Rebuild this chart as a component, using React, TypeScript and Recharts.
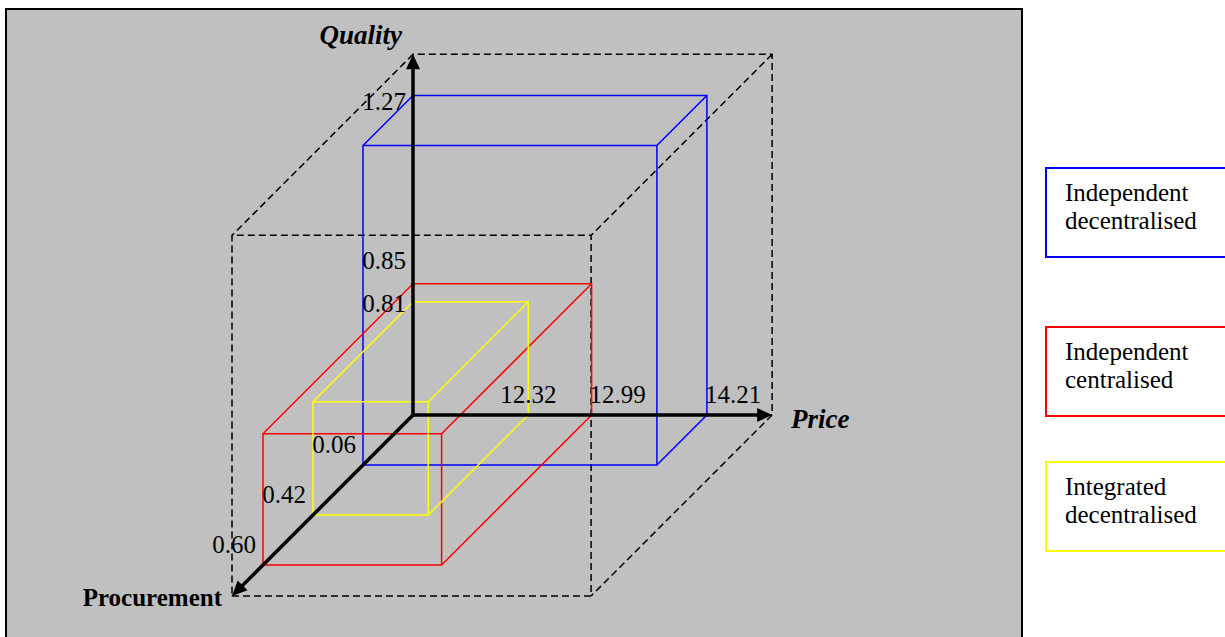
import React from 'react';
import { ComposedChart, Line, Scatter, XAxis, YAxis, Legend } from 'recharts';

// Equilibrium outcome of each organisational form
const STRATEGIES = ['Independent decentralised', 'Independent centralised', 'Integrated decentralised'];
const PRICE = [14.21, 12.99, 12.32];
const QUALITY = [1.27, 0.85, 0.81];
const PROCUREMENT = [0.06, 0.6, 0.42];

const AXIS_NAMES = { price: 'Price', quality: 'Quality', procurement: 'Procurement' };

// ---- styling -------------------------------------------------------------
const BOX_COLORS = ['#0000ff', '#ff0000', '#ffff00'];
const SERIF = '"Liberation Serif", "Times New Roman", Times, serif';
const PANEL_GREY = '#c0c0c0';

// ---- layout of the oblique projection -------------------------------------
const WIDTH = 1225;
const HEIGHT = 637;
const ORIGIN_PX = { x: 413, y: 415 }; // where the three axes meet
const PRICE_AT_ORIGIN = 11.1;
const QUALITY_AT_ORIGIN = 0.557;
const PX_PER_PRICE = 94.5;
const PX_PER_QUALITY = 448;
const DEPTH_STEP_PX = 50; // receding (45°) distance per procurement level
// extent of the dashed reference cube
const FRAME_PRICE = 14.9;
const FRAME_QUALITY = 1.362;
const FRAME_DEPTH = 3.62;
const HEAD_PX = 15; // arrowhead length
const HEAD_HALF_PX = 7;

const X_DOMAIN: [number, number] = [
  PRICE_AT_ORIGIN - ORIGIN_PX.x / PX_PER_PRICE,
  PRICE_AT_ORIGIN + (WIDTH - ORIGIN_PX.x) / PX_PER_PRICE,
];
const Y_DOMAIN: [number, number] = [
  QUALITY_AT_ORIGIN - (HEIGHT - ORIGIN_PX.y) / PX_PER_QUALITY,
  QUALITY_AT_ORIGIN + ORIGIN_PX.y / PX_PER_QUALITY,
];

// legend boxes (page coordinates)
const LEGEND_LEFT = 1045;
const LEGEND_TOPS = [167, 326, 461];

// procurement is laid out ordinally along the receding axis
const LEVELS = [...PROCUREMENT].sort((a, b) => a - b);
const depthOf = (v: number) => LEVELS.indexOf(v) + 1;

type P3 = [number, number, number];
type Pt = { x: number; y: number | null };

// price/quality stay on the chart axes; depth shifts a point down-left at 45°
const project = ([p, q, d]: P3): Pt => ({
  x: p - (d * DEPTH_STEP_PX) / PX_PER_PRICE,
  y: q - (d * DEPTH_STEP_PX) / PX_PER_QUALITY,
});

// wireframe of a box from the origin to (p, q, d): two faces + four receding edges
const boxPath = (p: number, q: number, d: number): Pt[] => {
  const c = (i: number, j: number, k: number): P3 => [
    i ? p : PRICE_AT_ORIGIN,
    j ? q : QUALITY_AT_ORIGIN,
    k ? d : 0,
  ];
  const runs: P3[][] = [];
  for (const k of [0, 1]) runs.push([c(0, 0, k), c(1, 0, k), c(1, 1, k), c(0, 1, k), c(0, 0, k)]);
  for (const i of [0, 1]) for (const j of [0, 1]) runs.push([c(i, j, 0), c(i, j, 1)]);
  return runs.flatMap((run) => {
    const pts = run.map(project);
    const last = pts[pts.length - 1];
    return [...pts, { x: last.x, y: null }];
  });
};

const FRAME_PATH = boxPath(FRAME_PRICE, FRAME_QUALITY, FRAME_DEPTH);
const BOX_PATHS = STRATEGIES.map((_, i) => boxPath(PRICE[i], QUALITY[i], depthOf(PROCUREMENT[i])));

// the three axes: shaft stops where the arrowhead begins
const ORIGIN3: P3 = [PRICE_AT_ORIGIN, QUALITY_AT_ORIGIN, 0];
const SHAFT = HEAD_PX - 2;
const AXES: { tip: P3; shaftEnd: P3 }[] = [
  {
    tip: [FRAME_PRICE, QUALITY_AT_ORIGIN, 0],
    shaftEnd: [FRAME_PRICE - SHAFT / PX_PER_PRICE, QUALITY_AT_ORIGIN, 0],
  },
  {
    tip: [PRICE_AT_ORIGIN, FRAME_QUALITY, 0],
    shaftEnd: [PRICE_AT_ORIGIN, FRAME_QUALITY - SHAFT / PX_PER_QUALITY, 0],
  },
  {
    tip: [PRICE_AT_ORIGIN, QUALITY_AT_ORIGIN, FRAME_DEPTH],
    shaftEnd: [PRICE_AT_ORIGIN, QUALITY_AT_ORIGIN, FRAME_DEPTH - SHAFT / (DEPTH_STEP_PX * Math.SQRT2)],
  },
];
const ORIGIN = project(ORIGIN3);
const ARROW_HEADS = AXES.map(({ tip }) => {
  const t = project(tip);
  const dxPx = (t.x - ORIGIN.x) * PX_PER_PRICE;
  const dyPx = -((t.y as number) - (ORIGIN.y as number)) * PX_PER_QUALITY;
  return { x: t.x, y: t.y, angle: (Math.atan2(dyPx, dxPx) * 180) / Math.PI };
});
const [PRICE_TIP, QUALITY_TIP, PROCUREMENT_TIP] = AXES.map((a) => project(a.tip));

// ---- text placed next to the marks ---------------------------------------
type Label = {
  x: number;
  y: number;
  text: string;
  anchor: 'start' | 'middle' | 'end';
  dx: number;
  dy: number;
  size: number;
  bold?: boolean;
  italic?: boolean;
};

const PRICE_LABEL_ANCHOR: Label['anchor'][] = ['start', 'start', 'middle'];
const PRICE_LABEL_DX = [-2, -2, 0];
const QUALITY_LABEL_DY = [14, -15, 10];
const VALUE_SIZE = 25;

const fmt = (v: number) => v.toFixed(2);

const LABELS: Label[] = [
  ...PRICE.map((v, i) => {
    const pt = project([v, QUALITY_AT_ORIGIN, 0]);
    return { x: pt.x, y: pt.y as number, text: fmt(v), anchor: PRICE_LABEL_ANCHOR[i], dx: PRICE_LABEL_DX[i], dy: -12, size: VALUE_SIZE };
  }),
  ...QUALITY.map((v, i) => {
    const pt = project([PRICE_AT_ORIGIN, v, 0]);
    return { x: pt.x, y: pt.y as number, text: fmt(v), anchor: 'end' as const, dx: -7, dy: QUALITY_LABEL_DY[i], size: VALUE_SIZE };
  }),
  ...PROCUREMENT.map((v) => {
    const pt = project([PRICE_AT_ORIGIN, QUALITY_AT_ORIGIN, depthOf(v)]);
    return { x: pt.x, y: pt.y as number, text: fmt(v), anchor: 'end' as const, dx: -7, dy: -12.5, size: VALUE_SIZE };
  }),
  { x: QUALITY_TIP.x, y: QUALITY_TIP.y as number, text: AXIS_NAMES.quality, anchor: 'end', dx: -11, dy: -10, size: 27, bold: true, italic: true },
  { x: PRICE_TIP.x, y: PRICE_TIP.y as number, text: AXIS_NAMES.price, anchor: 'start', dx: 19, dy: 13, size: 27, bold: true, italic: true },
  { x: PROCUREMENT_TIP.x, y: PROCUREMENT_TIP.y as number, text: AXIS_NAMES.procurement, anchor: 'end', dx: -10, dy: 10, size: 25, bold: true },
];

const renderLabel = (props: any) => {
  const { cx, cy, payload } = props;
  const l = payload as Label;
  return (
    <text
      x={cx + l.dx}
      y={cy + l.dy}
      textAnchor={l.anchor}
      fontFamily={SERIF}
      fontSize={l.size}
      fontWeight={l.bold ? 'bold' : 'normal'}
      fontStyle={l.italic ? 'italic' : 'normal'}
      fill="#000"
    >
      {l.text}
    </text>
  );
};

const renderArrowHead = (props: any) => {
  const { cx, cy, payload } = props;
  return (
    <polygon
      transform={`translate(${cx},${cy}) rotate(${payload.angle})`}
      points={`0,0 ${-HEAD_PX},${HEAD_HALF_PX} ${-HEAD_PX},${-HEAD_HALF_PX}`}
      fill="#000"
    />
  );
};

const LegendBoxes = (props: any) => {
  const items = (props.payload || []).filter((e: any) => e.type !== 'none' && STRATEGIES.includes(e.value));
  return (
    <div style={{ position: 'relative' }}>
      {items.map((e: any) => (
        <div
          key={e.value}
          style={{
            position: 'absolute',
            left: 0,
            top: LEGEND_TOPS[STRATEGIES.indexOf(e.value)],
            width: 200,
            height: 91,
            boxSizing: 'border-box',
            border: `2px solid ${e.color}`,
            background: '#fff',
            padding: '10px 18px 0',
            fontFamily: SERIF,
            fontSize: 25,
            lineHeight: '28px',
            color: '#000',
            textAlign: 'left',
          }}
        >
          {e.value}
        </div>
      ))}
    </div>
  );
};

export default function App() {
  return (
    <div style={{ position: 'absolute', left: 0, top: 0, width: WIDTH, height: HEIGHT, overflow: 'hidden', background: '#fff' }}>
      <div
        style={{
          position: 'absolute',
          left: 5,
          top: 8,
          width: 1018,
          height: 660,
          boxSizing: 'border-box',
          border: '2px solid #000',
          background: PANEL_GREY,
        }}
      />
      <div style={{ position: 'absolute', left: 0, top: 0 }}>
        <ComposedChart width={WIDTH} height={HEIGHT} margin={{ top: 0, right: 0, bottom: 0, left: 0 }}>
          <XAxis type="number" dataKey="x" domain={X_DOMAIN} allowDataOverflow hide />
          <YAxis type="number" dataKey="y" domain={Y_DOMAIN} allowDataOverflow hide />
          <Line
            data={FRAME_PATH}
            dataKey="y"
            name="frame"
            legendType="none"
            stroke="#000"
            strokeWidth={1.5}
            strokeDasharray="7 4"
            dot={false}
            activeDot={false}
            connectNulls={false}
            type="linear"
            isAnimationActive={false}
          />
          {STRATEGIES.map((name, i) => (
            <Line
              key={name}
              data={BOX_PATHS[i]}
              dataKey="y"
              name={name}
              stroke={BOX_COLORS[i]}
              strokeWidth={1.5}
              dot={false}
              activeDot={false}
              connectNulls={false}
              type="linear"
              isAnimationActive={false}
            />
          ))}
          {AXES.map((a, i) => (
            <Line
              key={`axis-${i}`}
              data={[ORIGIN, project(a.shaftEnd)]}
              dataKey="y"
              name={`axis-${i}`}
              legendType="none"
              stroke="#000"
              strokeWidth={3.5}
              dot={false}
              activeDot={false}
              type="linear"
              isAnimationActive={false}
            />
          ))}
          <Scatter data={ARROW_HEADS} legendType="none" shape={renderArrowHead} isAnimationActive={false} />
          <Scatter data={LABELS} legendType="none" shape={renderLabel} isAnimationActive={false} />
          <Legend
            layout="vertical"
            align="center"
            verticalAlign="middle"
            content={LegendBoxes}
            wrapperStyle={{ left: LEGEND_LEFT, top: 0, width: 200, height: 0 }}
          />
        </ComposedChart>
      </div>
    </div>
  );
}
